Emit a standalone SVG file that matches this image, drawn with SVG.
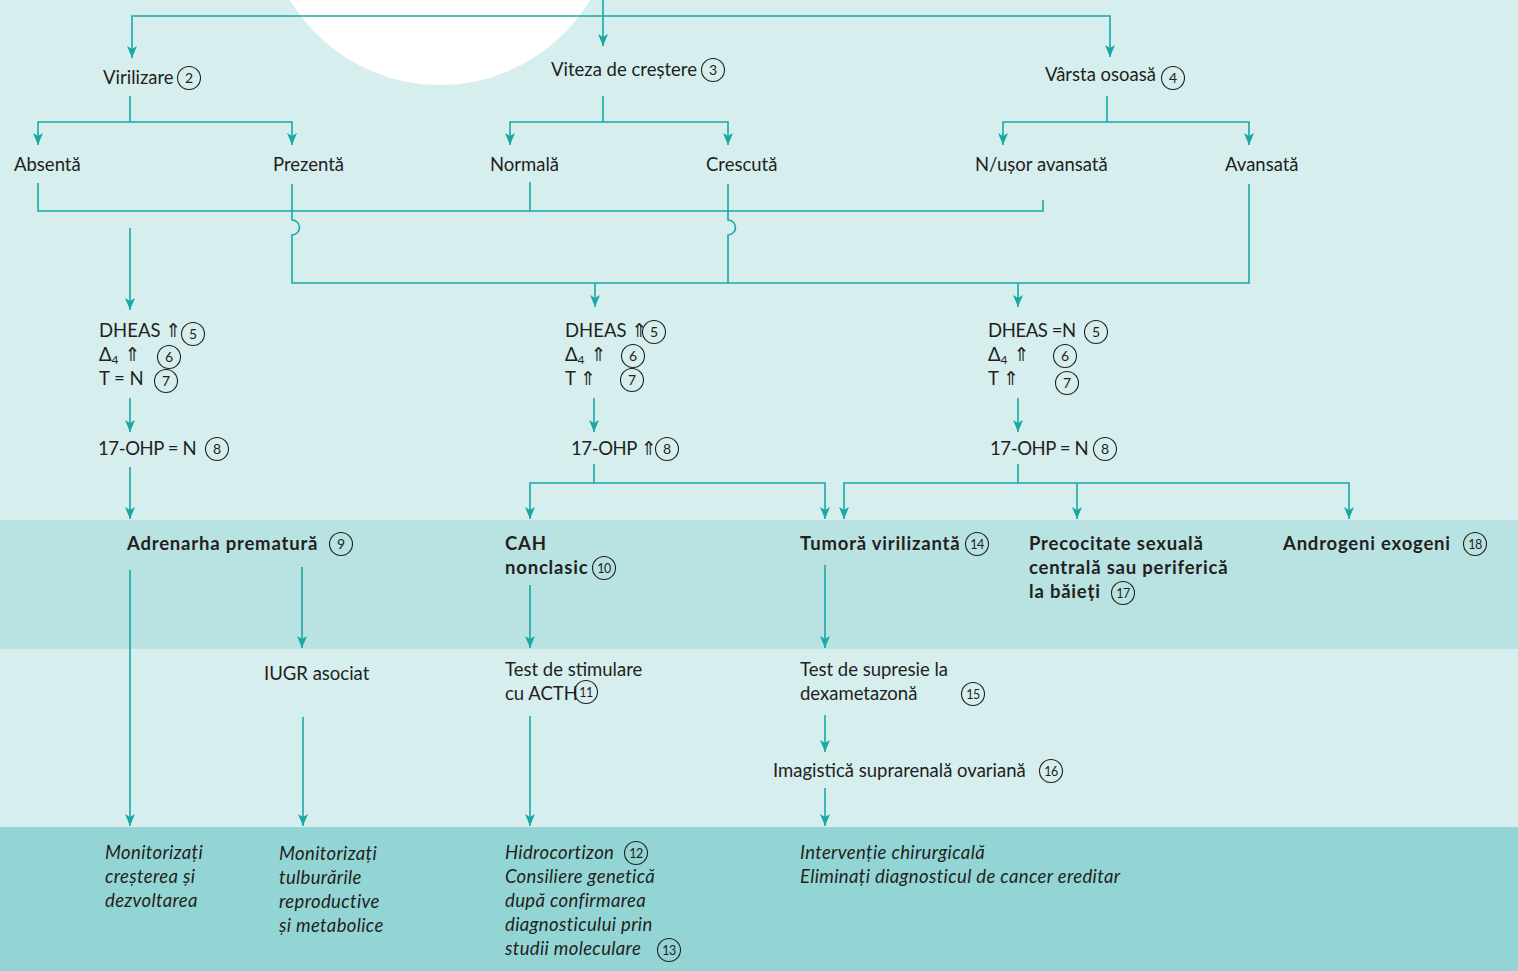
<svg xmlns="http://www.w3.org/2000/svg" width="1518" height="971" viewBox="0 0 1518 971">
  <defs>
    <style>
      .t { font-family: Lato, "Open Sans", "DejaVu Sans", sans-serif; font-size: 18.5px; letter-spacing: 0; fill: #231f20; }
      .b { font-weight: bold; letter-spacing: 0.8px; }
      .i { font-style: italic; letter-spacing: 0.35px; }
      .n { letter-spacing: -0.4px; }
      .sym { font-family: "DejaVu Sans", sans-serif; font-size: 19px; fill: #231f20; letter-spacing: 0; }
      .c circle { fill: none; stroke: #231f20; stroke-width: 1.1; }
      .c text { font-family: Lato, "Open Sans", sans-serif; font-size: 14px; fill: #231f20; text-anchor: middle; }
      .c text.d { font-size: 12.5px; letter-spacing: -0.6px; }
      .ln { fill: none; stroke: #1aa8a6; stroke-width: 1.6; }
      .ar { marker-end: url(#head); }
    </style>
    <marker id="head" viewBox="0 0 12 10" refX="12" refY="5" markerWidth="12" markerHeight="10" markerUnits="userSpaceOnUse" orient="auto">
      <path d="M0,0 L12,5 L0,10 L3,5 z" fill="#1aa8a6"/>
    </marker>
  </defs>

  <!-- background bands -->
  <rect x="0" y="0" width="1518" height="520" fill="#d6eeee"/>
  <rect x="0" y="520" width="1518" height="129" fill="#b9e2e2"/>
  <rect x="0" y="649" width="1518" height="178" fill="#d6eeee"/>
  <rect x="0" y="827" width="1518" height="144" fill="#93d5d5"/>
  <circle cx="440" cy="-90" r="175" fill="#ffffff"/>

  <!-- connectors -->
  <g id="connectors">
    <path class="ln ar" d="M603,0 V46"/>
    <path class="ln ar" d="M603,16 H132 V58"/>
    <path class="ln ar" d="M603,16 H1110 V57"/>

    <path class="ln" d="M130,96 V122"/>
    <path class="ln ar" d="M130,122 H38 V145"/>
    <path class="ln ar" d="M130,122 H292 V145"/>
    <path class="ln" d="M603,96 V122"/>
    <path class="ln ar" d="M603,122 H510 V145"/>
    <path class="ln ar" d="M603,122 H728 V145"/>
    <path class="ln" d="M1107,96 V122"/>
    <path class="ln ar" d="M1107,122 H1003 V145"/>
    <path class="ln ar" d="M1107,122 H1249 V145"/>

    <path class="ln" d="M38,183 V211 H1043 V200"/>
    <path class="ln" d="M530,182 V211"/>
    <path class="ln" d="M292,184 V220 A7.5,7.5 0 0 1 292,235 V283 H1249 V184"/>
    <path class="ln" d="M728,184 V220 A7.5,7.5 0 0 1 728,235 V283"/>
    <path class="ln ar" d="M130,228 V310"/>
    <path class="ln ar" d="M595,283 V307"/>
    <path class="ln ar" d="M1018,283 V307"/>

    <path class="ln ar" d="M130,398 V432"/>
    <path class="ln ar" d="M594,398 V432"/>
    <path class="ln ar" d="M1018,398 V432"/>

    <path class="ln ar" d="M130,467 V519"/>
    <path class="ln" d="M594,464 V483"/>
    <path class="ln ar" d="M594,483 H530 V519"/>
    <path class="ln ar" d="M594,483 H825 V519"/>
    <path class="ln" d="M1018,464 V483"/>
    <path class="ln ar" d="M1018,483 H844 V519"/>
    <path class="ln ar" d="M1018,483 H1349 V519"/>
    <path class="ln ar" d="M1077,483 V519"/>

    <path class="ln ar" d="M130,570 V826"/>
    <path class="ln ar" d="M302,567 V648"/>
    <path class="ln ar" d="M530,585 V648"/>
    <path class="ln ar" d="M825,565 V648"/>

    <path class="ln ar" d="M303,717 V826"/>
    <path class="ln ar" d="M530,716 V826"/>
    <path class="ln ar" d="M825,715 V752"/>
    <path class="ln ar" d="M825,788 V826"/>
  </g>

  <!-- first level -->
  <g id="virilizare">
    <text class="t" x="103" y="84">Virilizare</text>
    <g class="c" transform="translate(189,78)"><circle r="11.5"/><text y="5">2</text></g>
  </g>
  <g id="viteza">
    <text class="t" x="551" y="76">Viteza de creștere</text>
    <g class="c" transform="translate(713,70)"><circle r="11.5"/><text y="5">3</text></g>
  </g>
  <g id="varsta">
    <text class="t" x="1045" y="81">Vârsta osoasă</text>
    <g class="c" transform="translate(1173,78)"><circle r="11.5"/><text y="5">4</text></g>
  </g>

  <!-- second level -->
  <g id="absenta"><text class="t" x="14" y="171">Absentă</text></g>
  <g id="prezenta"><text class="t" x="273" y="171">Prezentă</text></g>
  <g id="normala"><text class="t" x="490" y="171">Normală</text></g>
  <g id="crescuta"><text class="t" x="706" y="171">Crescută</text></g>
  <g id="usor-avansata"><text class="t" x="975" y="171">N/ușor avansată</text></g>
  <g id="avansata"><text class="t" x="1225" y="171">Avansată</text></g>

  <!-- hormone panels -->
  <g id="hormoni-1">
    <text class="t" x="99" y="337">DHEAS <tspan class="sym">⇑</tspan></text>
    <g class="c" transform="translate(193,334)"><circle r="11.5"/><text y="5">5</text></g>
    <text class="t" x="99" y="361">Δ<tspan font-size="12" dy="3">4</tspan><tspan dy="-3" class="sym"> ⇑</tspan></text>
    <g class="c" transform="translate(169,357)"><circle r="11.5"/><text y="5">6</text></g>
    <text class="t" x="99" y="385">T = N</text>
    <g class="c" transform="translate(166,381)"><circle r="11.5"/><text y="5">7</text></g>
  </g>
  <g id="hormoni-2">
    <text class="t" x="565" y="337">DHEAS <tspan class="sym">⇑</tspan></text>
    <g class="c" transform="translate(654,332)"><circle r="11.5"/><text y="5">5</text></g>
    <text class="t" x="565" y="361">Δ<tspan font-size="12" dy="3">4</tspan><tspan dy="-3" class="sym"> ⇑</tspan></text>
    <g class="c" transform="translate(633,356)"><circle r="11.5"/><text y="5">6</text></g>
    <text class="t" x="565" y="385">T <tspan class="sym">⇑</tspan></text>
    <g class="c" transform="translate(632,380)"><circle r="11.5"/><text y="5">7</text></g>
  </g>
  <g id="hormoni-3">
    <text class="t n" x="988" y="337">DHEAS =N</text>
    <g class="c" transform="translate(1096,332)"><circle r="11.5"/><text y="5">5</text></g>
    <text class="t" x="988" y="361">Δ<tspan font-size="12" dy="3">4</tspan><tspan dy="-3" class="sym"> ⇑</tspan></text>
    <g class="c" transform="translate(1065,356)"><circle r="11.5"/><text y="5">6</text></g>
    <text class="t" x="988" y="385">T <tspan class="sym">⇑</tspan></text>
    <g class="c" transform="translate(1067,383)"><circle r="11.5"/><text y="5">7</text></g>
  </g>

  <g id="ohp-1">
    <text class="t n" x="98" y="455">17-OHP = N</text>
    <g class="c" transform="translate(217,449)"><circle r="11.5"/><text y="5">8</text></g>
  </g>
  <g id="ohp-2">
    <text class="t n" x="571" y="455">17-OHP <tspan class="sym">⇑</tspan></text>
    <g class="c" transform="translate(667,449)"><circle r="11.5"/><text y="5">8</text></g>
  </g>
  <g id="ohp-3">
    <text class="t n" x="990" y="455">17-OHP = N</text>
    <g class="c" transform="translate(1105,449)"><circle r="11.5"/><text y="5">8</text></g>
  </g>

  <!-- diagnoses -->
  <g id="adrenarha">
    <text class="t b" x="127" y="550">Adrenarha prematură</text>
    <g class="c" transform="translate(341,544)"><circle r="11.5"/><text y="5">9</text></g>
  </g>
  <g id="cah">
    <text class="t b" x="505" y="550">CAH</text>
    <text class="t b" x="505" y="574">nonclasic</text>
    <g class="c" transform="translate(604,568)"><circle r="11.5"/><text class="d" y="4.5">10</text></g>
  </g>
  <g id="tumora">
    <text class="t b" x="800" y="550">Tumoră virilizantă</text>
    <g class="c" transform="translate(977,544)"><circle r="11.5"/><text class="d" y="4.5">14</text></g>
  </g>
  <g id="precocitate">
    <text class="t b" x="1029" y="550">Precocitate sexuală</text>
    <text class="t b" x="1029" y="574">centrală sau periferică</text>
    <text class="t b" x="1029" y="598">la băieți</text>
    <g class="c" transform="translate(1123,593)"><circle r="11.5"/><text class="d" y="4.5">17</text></g>
  </g>
  <g id="androgeni">
    <text class="t b" x="1283" y="550">Androgeni exogeni</text>
    <g class="c" transform="translate(1475,544)"><circle r="11.5"/><text class="d" y="4.5">18</text></g>
  </g>

  <!-- investigations -->
  <g id="iugr"><text class="t" x="264" y="680">IUGR asociat</text></g>
  <g id="test-acth">
    <text class="t" x="505" y="676">Test de stimulare</text>
    <text class="t" x="505" y="700">cu ACTH</text>
    <g class="c" transform="translate(586,692)"><circle r="11.5"/><text class="d" y="4.5">11</text></g>
  </g>
  <g id="test-dexa">
    <text class="t" x="800" y="676">Test de supresie la</text>
    <text class="t" x="800" y="700">dexametazonă</text>
    <g class="c" transform="translate(973,694)"><circle r="11.5"/><text class="d" y="4.5">15</text></g>
  </g>
  <g id="imagistica">
    <text class="t" x="773" y="777">Imagistică suprarenală ovariană</text>
    <g class="c" transform="translate(1051,771)"><circle r="11.5"/><text class="d" y="4.5">16</text></g>
  </g>

  <!-- management -->
  <g id="monitorizare-1">
    <text class="t i" x="105" y="859">Monitorizați</text>
    <text class="t i" x="105" y="883">creșterea și</text>
    <text class="t i" x="105" y="907">dezvoltarea</text>
  </g>
  <g id="monitorizare-2">
    <text class="t i" x="279" y="860">Monitorizați</text>
    <text class="t i" x="279" y="884">tulburările</text>
    <text class="t i" x="279" y="908">reproductive</text>
    <text class="t i" x="279" y="932">și metabolice</text>
  </g>
  <g id="tratament-cah">
    <text class="t i" x="505" y="859">Hidrocortizon</text>
    <g class="c" transform="translate(636,853)"><circle r="11.5"/><text class="d" y="4.5">12</text></g>
    <text class="t i" x="505" y="883">Consiliere genetică</text>
    <text class="t i" x="505" y="907">după confirmarea</text>
    <text class="t i" x="505" y="931">diagnosticului prin</text>
    <text class="t i" x="505" y="955">studii moleculare</text>
    <g class="c" transform="translate(669,950)"><circle r="11.5"/><text class="d" y="4.5">13</text></g>
  </g>
  <g id="chirurgie">
    <text class="t i" x="800" y="859">Intervenție chirurgicală</text>
    <text class="t i" x="800" y="883">Eliminați diagnosticul de cancer ereditar</text>
  </g>
</svg>
